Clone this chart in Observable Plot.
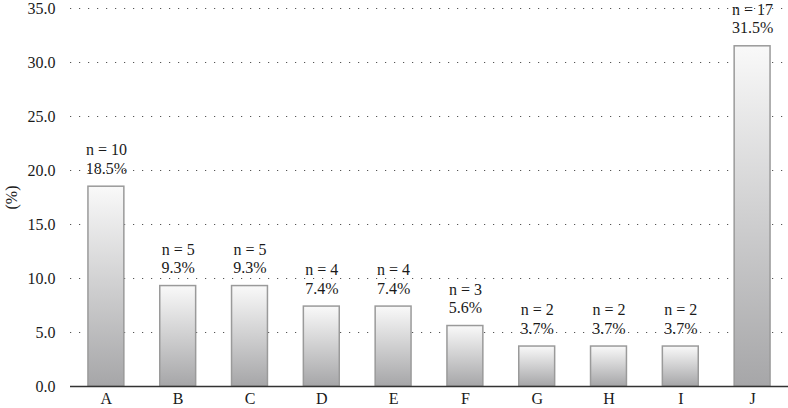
<!DOCTYPE html>
<html>
<head>
<meta charset="utf-8">
<script src="https://cdn.jsdelivr.net/npm/d3@7"></script>
<script src="https://cdn.jsdelivr.net/npm/@observablehq/plot@0.6"></script>
<style>
  html, body { margin: 0; padding: 0; background: #fff; }
  #chart svg { display: block; }
  #chart svg, #chart svg text { font-family: "Liberation Serif", "Times New Roman", serif !important; }
</style>
</head>
<body>
<div id="chart"></div>
<script>
const categories = ["A", "B", "C", "D", "E", "F", "G", "H", "I", "J"];
const counts = [10, 5, 5, 4, 4, 3, 2, 2, 2, 17];
const percents = [18.5, 9.3, 9.3, 7.4, 7.4, 5.6, 3.7, 3.7, 3.7, 31.5];
const yTicks = [0, 5, 10, 15, 20, 25, 30, 35];

const data = categories.map((c, i) => ({ cat: c, n: counts[i], pct: percents[i] }));
const FONT = "Liberation Serif";

const defs = () => {
  const g = d3.create("svg:defs");
  const lg = g.append("linearGradient")
    .attr("id", "barGrad")
    .attr("x1", 0).attr("y1", 0).attr("x2", 0).attr("y2", 1);
  lg.append("stop").attr("offset", "0%").attr("stop-color", "#f9f9f9");
  lg.append("stop").attr("offset", "100%").attr("stop-color", "#a6a6a8");
  return g.node();
};

const chart = Plot.plot({
  width: 788,
  height: 408,
  marginLeft: 70,
  marginRight: 0,
  marginTop: 8,
  marginBottom: 22,
  style: { fontFamily: FONT, fontSize: "16px", color: "#1a1a1a", background: "#fff", overflow: "visible" },
  x: { domain: categories, paddingInner: 0.5, paddingOuter: 0.25, round: false, label: null },
  y: { domain: [0, 35], ticks: yTicks, label: null },
  marks: [
    defs,
    Plot.gridY(yTicks.filter(t => t > 0), { stroke: "#555", strokeOpacity: 1, strokeWidth: 1.2, strokeDasharray: "1.2,7.8" }),
    Plot.axisY({ ticks: yTicks, tickSize: 0, tickPadding: 15, tickFormat: d => d.toFixed(1), label: "(%)", labelAnchor: "center", labelArrow: "none", labelOffset: 65, fontSize: 16, fontFamily: FONT }),
    Plot.axisX({ tickSize: 0, tickPadding: 6, label: null, fontSize: 16, fontFamily: FONT }),
    Plot.barY(data, { x: "cat", y: "pct", fill: "url(#barGrad)", stroke: "#9a9a9a", strokeWidth: 1.5 }),
    Plot.ruleY([0], { stroke: "#333", strokeWidth: 1.6 }),
    Plot.text(data, {
      x: "cat", y: "pct",
      text: d => `n = ${d.n}\n${d.pct.toFixed(1)}%`,
      lineAnchor: "bottom", lineHeight: 1.15, dy: -13, fontSize: 16, fontFamily: FONT, fill: "#1a1a1a"
    })
  ]
});

document.getElementById("chart").appendChild(chart);
</script>
</body>
</html>
